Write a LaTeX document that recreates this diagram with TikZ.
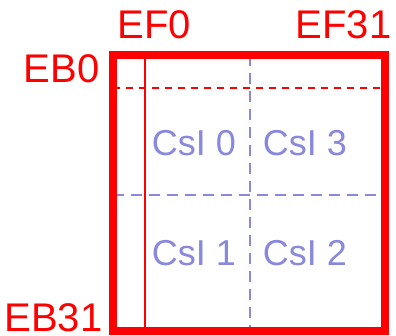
\documentclass[tikz,border=0pt]{standalone}
\usepackage{fontspec}
\setmainfont{Liberation Sans}
\definecolor{csiblue}{RGB}{136,136,221}
\begin{document}
\begin{tikzpicture}
        [x=1pt, y=-1pt,
        frame/.style={red, line width=8pt},
        edge/.style={red, font=\fontsize{40}{40}\selectfont, anchor=base, inner sep=0pt, text depth=0pt},
        crystal/.style={csiblue, font=\fontsize{36}{36}\selectfont, anchor=base, inner sep=0pt},
        split/.style={csiblue, line width=2pt, dash pattern=on 11pt off 7pt}]

        \useasboundingbox (0,0) rectangle (396,335);

        \node [edge] (EFfirst) at (154.5,38) {EF0};
        \node [edge] (EFlast) at (343.5,38) {EF31};
        \node [edge] (EBfirst) at (61.5,82) {EB0};
        \node [edge] (EBlast) at (53.5,331) {EB31};

        \draw [split] (113,194.5) -- (384.5,194.5);
        \draw [split] (249.5,55) -- (249.5,331);
        \draw [red, line width=2pt, dash pattern=on 7pt off 6pt] (113,87.5) -- (384.5,87.5);
        \draw [red, line width=2pt] (144.5,55) -- (144.5,331);
        \draw [frame] (113,55) rectangle (384.5,331);

        \node [crystal] (csi0) at (194,155) {CsI 0};
        \node [crystal] (csi3) at (305,155) {CsI 3};
        \node [crystal] (csi1) at (194,265) {CsI 1};
        \node [crystal] (csi2) at (305,265) {CsI 2};
    \end{tikzpicture}
\end{document}
